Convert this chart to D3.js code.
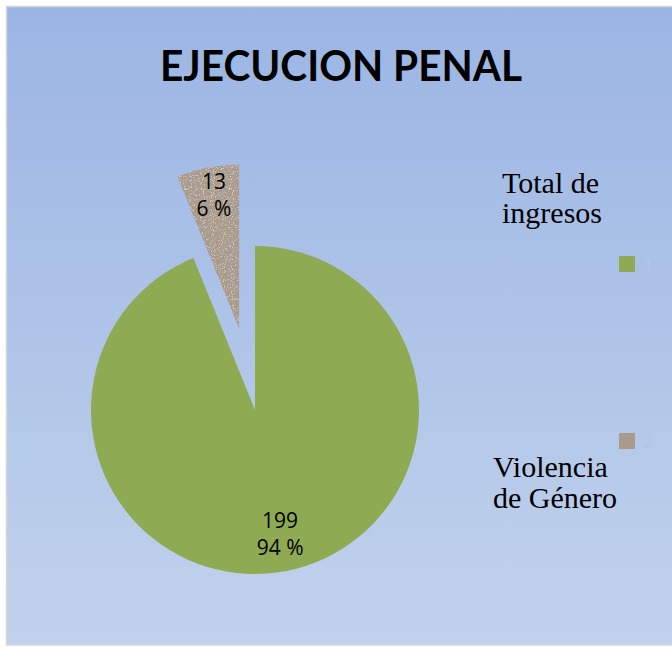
<!DOCTYPE html>
<html>
<head>
<meta charset="utf-8">
<script src="https://cdn.jsdelivr.net/npm/d3@7"></script>
<style>
  html, body { margin: 0; padding: 0; background: #fff; }
  svg { display: block; }
</style>
</head>
<body>
<svg id="chart" width="672" height="659"></svg>
<script>
const categories = ['Total de ingresos', 'Violencia de Género']
const legendKeys = ['1', '2']
const values = [199, 13]
const colors = ['#8eaa52', '#a99a8b']
const legendLines = [['Total de', 'ingresos'], ['Violencia', 'de Género']]

const width = 672
const height = 659
const svg = d3.select('#chart')

const defs = svg.append('defs')
const grad = defs.append('linearGradient')
  .attr('id', 'bg').attr('x1', 0).attr('y1', 0).attr('x2', 0).attr('y2', 1)
grad.append('stop').attr('offset', '0%').attr('stop-color', '#9bb5e3')
grad.append('stop').attr('offset', '100%').attr('stop-color', '#c1d2ec')

// granite-like speckle for the small slice
const f = defs.append('filter').attr('id', 'granite')
  .attr('x', '0%').attr('y', '0%').attr('width', '100%').attr('height', '100%')
f.append('feTurbulence').attr('type', 'fractalNoise')
  .attr('baseFrequency', 0.9).attr('numOctaves', 2).attr('seed', 3).attr('result', 'noise')
f.append('feColorMatrix').attr('in', 'noise').attr('type', 'matrix')
  .attr('values', '0 0 0 0 0.38  0 0 0 0 0.33  0 0 0 0 0.29  3 0 0 0 -1.45')
  .attr('result', 'dark')
f.append('feColorMatrix').attr('in', 'noise').attr('type', 'matrix')
  .attr('values', '0 0 0 0 0.85  0 0 0 0 0.82  0 0 0 0 0.78  -3 0 0 0 1.35')
  .attr('result', 'light')
f.append('feComposite').attr('in', 'dark').attr('in2', 'SourceGraphic').attr('operator', 'atop').attr('result', 'a')
f.append('feComposite').attr('in', 'light').attr('in2', 'a').attr('operator', 'atop')

// chart area
svg.append('rect')
  .attr('x', 6.5).attr('y', 6.5)
  .attr('width', width).attr('height', 638.5)
  .attr('fill', 'url(#bg)')
  .attr('stroke', '#d6d6d6').attr('stroke-width', 1.5)

svg.append('text')
  .attr('x', 341).attr('y', 81)
  .attr('text-anchor', 'middle')
  .attr('font-family', 'Lato, "Open Sans", sans-serif')
  .attr('font-weight', 'bold')
  .attr('font-size', 42)
  .attr('textLength', 362)
  .attr('lengthAdjust', 'spacingAndGlyphs')
  .attr('fill', '#000')
  .text('EJECUCION PENAL')

const cx = 255
const cy = 410
const r = 164
const explode = 83

const total = d3.sum(values)
const pie = d3.pie().sort(null).startAngle(0).endAngle(2 * Math.PI)
const arcs = pie(values)
const arc = d3.arc().innerRadius(0).outerRadius(r)
const labelArc = d3.arc().innerRadius(r * 0.8).outerRadius(r * 0.8)

const offset = (d, i) => {
  if (i !== 1) return [0, 0]
  const mid = (d.startAngle + d.endAngle) / 2
  return [Math.sin(mid) * explode, -Math.cos(mid) * explode]
}

const g = svg.append('g').attr('transform', `translate(${cx},${cy})`)

const slices = g.selectAll('g.slice')
  .data(arcs)
  .join('g')
  .attr('class', 'slice')
  .attr('transform', (d, i) => `translate(${offset(d, i)})`)

slices.append('path')
  .attr('d', arc)
  .attr('fill', (d, i) => colors[i])
  .attr('filter', (d, i) => i === 1 ? 'url(#granite)' : null)

// value and percent as two separate texts so they do not collide
const labelPos = d => labelArc.centroid(d)
slices.append('text')
  .attr('x', d => labelPos(d)[0]).attr('y', d => labelPos(d)[1] - 11)
  .attr('text-anchor', 'middle')
  .attr('font-family', '"Open Sans", sans-serif')
  .attr('font-size', 21)
  .attr('fill', '#000')
  .text(d => d.value)

slices.append('text')
  .attr('x', d => labelPos(d)[0]).attr('y', d => labelPos(d)[1] + 16)
  .attr('text-anchor', 'middle')
  .attr('font-family', '"Open Sans", sans-serif')
  .attr('font-size', 21)
  .attr('fill', '#000')
  .text(d => Math.round(d.value / total * 100) + ' %')

// legend
const legendY = [256, 433]
const textY = [[193, 223], [477, 508]]
const textX = [502, 493]

const legend = svg.append('g')
categories.forEach((c, i) => {
  legend.append('rect')
    .attr('x', 619).attr('y', legendY[i])
    .attr('width', 16).attr('height', 16)
    .attr('fill', colors[i])
  legend.append('text')
    .attr('x', 643).attr('y', legendY[i] + 15)
    .attr('font-family', '"Open Sans", sans-serif')
    .attr('font-size', 19)
    .attr('fill', '#b4c5e6')
    .text(legendKeys[i])
  const t = legend.append('text')
    .attr('font-family', '"Liberation Serif", "Times New Roman", serif')
    .attr('font-size', 30)
    .attr('fill', '#000')
  legendLines[i].forEach((line, j) => {
    t.append('tspan').attr('x', textX[i]).attr('y', textY[i][j]).text(line)
  })
})
</script>
</body>
</html>
